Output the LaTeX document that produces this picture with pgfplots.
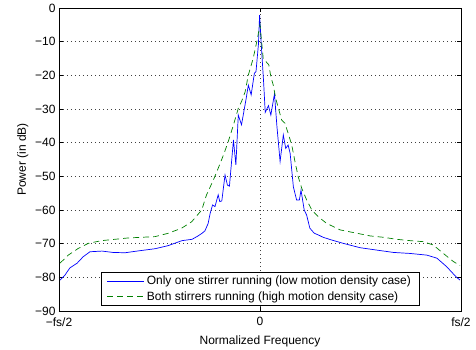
\documentclass[border=0pt]{standalone}
\usepackage{pgfplots}
\pgfplotsset{compat=1.18}
\usepackage{fontspec}
\setmainfont{Liberation Sans}
\definecolor{mgreen}{rgb}{0,0.5,0}
\begin{document}
\begin{tikzpicture}
\begin{axis}[
  at={(0,0)}, anchor=south west,
  scale only axis, width=402pt, height=303pt,
  xmin=-0.5, xmax=0.5, ymin=-90, ymax=0,
  xtick={-0.5,0,0.5}, xticklabels={−fs/2,0,fs/2},
  ytick={-90,-80,-70,-60,-50,-40,-30,-20,-10,0},
  yticklabels={−90,−80,−70,−60,−50,−40,−30,−20,−10,0},
  xticklabel style={yshift=-3pt},
  xlabel style={yshift=-3pt},
  tick align=inside, tick pos=both, major tick length=4pt,
  tick style={black, line width=0.5pt},
  grid=major,
  major grid style={black!75, line width=0.5pt, dash pattern=on 0.6pt off 3.4pt},
  axis line style={black, line width=0.8pt},
  font=\fontsize{12}{14}\selectfont,
  xlabel={Normalized Frequency}, ylabel={Power (in dB)},
  legend style={at={(0.5,0.0165)}, anchor=south, draw=black, line width=0.8pt,
    font=\fontsize{12}{14}\selectfont, inner xsep=6pt, inner ysep=2pt, row sep=1pt},
  legend cell align=left,
  legend image code/.code={\draw[#1, line width=0.7pt] (0pt,0pt) -- (37pt,0pt);},
]
\addplot[draw=blue, line width=0.7pt] coordinates {
(-0.4975,-80.8) (-0.485,-79.3) (-0.473,-77.2) (-0.455,-75.8) (-0.440,-73.9)
(-0.423,-72.4) (-0.393,-72.2) (-0.366,-72.6) (-0.336,-72.7) (-0.306,-72.2)
(-0.261,-71.5) (-0.229,-70.6) (-0.194,-69.1) (-0.169,-68.7) (-0.154,-67.7)
(-0.144,-66.9) (-0.137,-66.2) (-0.129,-64.0) (-0.124,-61.0) (-0.118,-58.5)
(-0.112,-59.0) (-0.104,-55.5) (-0.100,-57.5) (-0.095,-57.3) (-0.087,-49.6)
(-0.081,-52.6) (-0.076,-52.9) (-0.066,-39.2) (-0.060,-46.6) (-0.054,-31.8)
(-0.046,-34.7) (-0.035,-27.3) (-0.029,-22.9) (-0.022,-25.8) (-0.014,-19.4)
(-0.010,-18.9) (-0.004,-11.0) (-0.001,-2.1) (0.004,-12.5) (0.009,-22.0)
(0.013,-31.0) (0.021,-29.0) (0.027,-31.8) (0.036,-25.5) (0.042,-35.0)
(0.050,-45.6) (0.058,-37.7) (0.064,-41.7) (0.070,-40.7) (0.075,-43.2)
(0.083,-53.1) (0.091,-57.0) (0.098,-57.0) (0.102,-54.1) (0.110,-60.0)
(0.116,-61.5) (0.124,-65.4) (0.135,-66.9) (0.145,-67.4) (0.157,-68.1)
(0.178,-68.9) (0.207,-69.9) (0.249,-71.2) (0.290,-71.9) (0.332,-72.6)
(0.373,-72.9) (0.415,-73.4) (0.440,-74.3) (0.464,-76.8) (0.489,-80.0)
(0.4975,-80.8)
};
\addlegendentry{Only one stirrer running (low motion density case)}
\addplot[draw=mgreen, line width=0.7pt, dash pattern=on 6pt off 4pt] coordinates {
(-0.4975,-75.8) (-0.477,-73.4) (-0.452,-71.4) (-0.427,-69.9) (-0.394,-69.1)
(-0.361,-68.7) (-0.328,-68.3) (-0.294,-68.1) (-0.261,-67.9) (-0.228,-66.9)
(-0.195,-65.4) (-0.170,-63.5) (-0.145,-60.0) (-0.133,-55.5) (-0.116,-51.1)
(-0.104,-47.6) (-0.091,-43.7) (-0.079,-39.7) (-0.066,-34.7) (-0.054,-29.8)
(-0.046,-27.8) (-0.037,-24.9) (-0.029,-19.9) (-0.017,-15.0) (-0.008,-10.0)
(0.000,-5.0) (0.008,-15.0) (0.022,-16.9) (0.027,-20.4) (0.033,-22.9)
(0.039,-26.8) (0.044,-29.0) (0.054,-33.3) (0.062,-34.2) (0.070,-37.2)
(0.079,-40.7) (0.087,-45.6) (0.095,-50.1) (0.104,-53.6) (0.116,-57.0)
(0.129,-60.0) (0.145,-62.0) (0.166,-64.0) (0.182,-64.9) (0.199,-65.9)
(0.241,-66.9) (0.274,-67.7) (0.307,-68.1) (0.340,-68.7) (0.373,-69.1)
(0.406,-69.4) (0.431,-70.4) (0.456,-72.9) (0.481,-75.3) (0.4975,-76.5)
};
\addlegendentry{Both stirrers running (high motion density case)}
\end{axis}
\pgfresetboundingbox
\path (-59pt,-38pt) rectangle (417pt,311pt);
\end{tikzpicture}
\end{document}
